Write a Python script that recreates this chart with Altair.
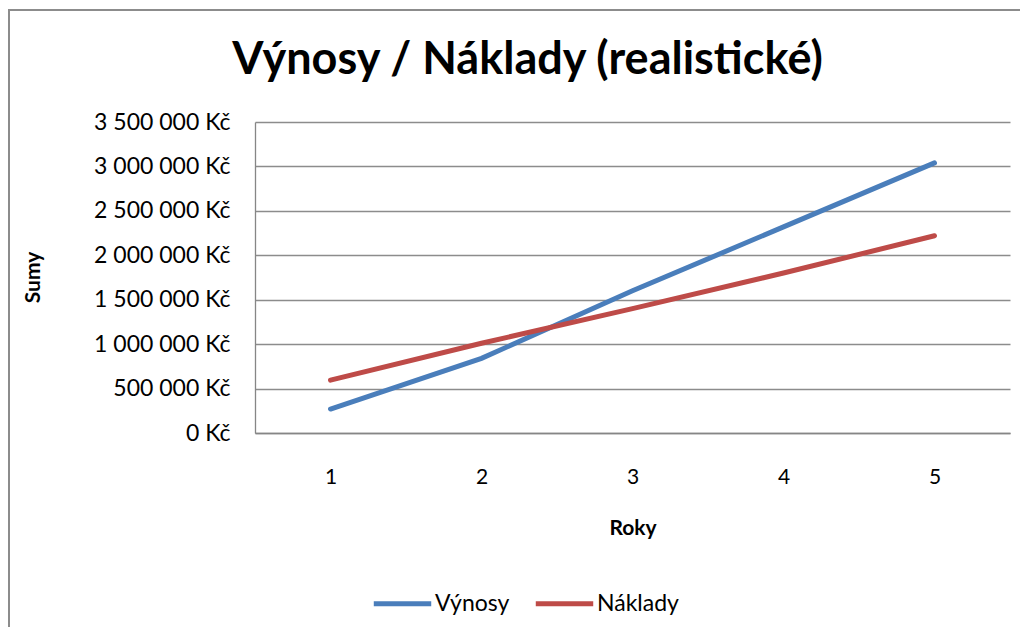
import altair as alt
import pandas as pd

years = [1, 2, 3, 4, 5]
vynosy = [270000, 840000, 1600000, 2320000, 3040000]
naklady = [595000, 1010000, 1400000, 1800000, 2220000]
series_names = ["Výnosy", "Náklady"]
series_colors = ["#4A7EBB", "#BE4B48"]
y_ticks = [0, 500000, 1000000, 1500000, 2000000, 2500000, 3000000, 3500000]

rows = []
for name, vals in zip(series_names, [vynosy, naklady]):
    for yr, v in zip(years, vals):
        rows.append({"Rok": str(yr), "Suma": v, "Série": name})
df = pd.DataFrame(rows)

FONT = "Lato"

lines = alt.Chart(df).mark_line(strokeWidth=5, strokeCap="round").encode(
    x=alt.X("Rok:O", title="Roky",
            scale=alt.Scale(type="point", padding=0.5),
            axis=alt.Axis(labelAngle=0, ticks=False, labelPadding=33,
                          labelFontSize=21, titleFontSize=21, titleFontWeight="bold",
                          titleY=95, titleBaseline="middle",
                          domainColor="#868686", domainWidth=1.3)),
    y=alt.Y("Suma:Q", title="Sumy",
            scale=alt.Scale(domain=[0, 3500000], nice=False),
            axis=alt.Axis(values=y_ticks, ticks=False, labelPadding=25,
                          labelFontSize=23, titleFontSize=21, titleFontWeight="bold",
                          labelExpr="replace(replace(format(datum.value, ','), ',', ' '), ',', ' ') + ' Kč'",
                          titleAngle=270, titleX=-222, titleY=155,
                          titleAlign="center", titleBaseline="middle",
                          grid=True, gridColor="#8C8C8C", gridWidth=1.3,
                          domainColor="#868686", domainWidth=1.3)),
    color=alt.Color("Série:N", title=None,
                    scale=alt.Scale(domain=series_names, range=series_colors),
                    legend=alt.Legend(orient="none", direction="horizontal",
                                      legendX=116, legendY=450,
                                      symbolType="stroke", symbolSize=3300,
                                      symbolStrokeWidth=5, labelFontSize=23,
                                      labelOffset=1, columnPadding=15)),
)

frame_df = pd.DataFrame({"a": [0]})
top_line = alt.Chart(frame_df).mark_rule(color="#8C8C8C", strokeWidth=2).encode(
    x=alt.value(-247), x2=alt.value(770), y=alt.value(-112))
left_line = alt.Chart(frame_df).mark_rule(color="#8C8C8C", strokeWidth=2).encode(
    x=alt.value(-246), y=alt.value(-112), y2=alt.value(505))

chart = alt.layer(lines, top_line, left_line).properties(
    width=755, height=311,
    padding={"left": 247, "top": 114, "right": 10, "bottom": 195},
    autosize="none",
    title=alt.Title("Výnosy / Náklady (realistické)", fontSize=45, font=FONT,
                    fontWeight="bold", anchor="middle", dx=-105, dy=94, offset=20),
).configure(font=FONT).configure_view(stroke=None).configure_axis(
    labelColor="#000000", titleColor="#000000", labelFont=FONT, titleFont=FONT
).configure_legend(labelFont=FONT, labelColor="#000000")

chart.save("out.html", embed_options={"renderer": "svg", "actions": False})
